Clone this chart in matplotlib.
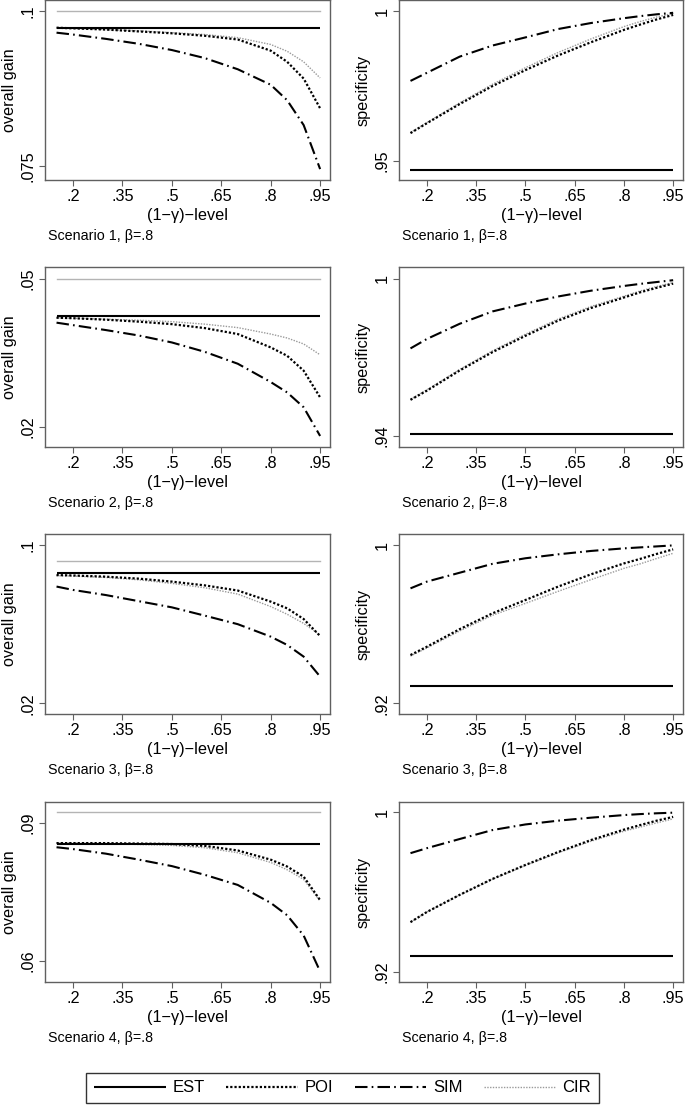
import numpy as np
import matplotlib
matplotlib.use('Agg')
import matplotlib.pyplot as plt
from matplotlib.lines import Line2D

plt.rcParams['font.family'] = ['Liberation Sans', 'DejaVu Sans']

# (1-gamma) levels
level = [0.15, 0.2, 0.3, 0.4, 0.5, 0.6, 0.7, 0.8, 0.85, 0.9, 0.95]
xticks = [0.2, 0.35, 0.5, 0.65, 0.8, 0.95]
xticklabels = ['.2', '.35', '.5', '.65', '.8', '.95']

# overall gain, scenario 1..4
gain_true = [0.1, 0.05, 0.0921, 0.09234]
gain_est = [0.09726, 0.04235, 0.0857, 0.0854]
gain_poi1 = [.0973, .0972, .0970, .0967, .0964, .0960, .0954, .0936, .0918, .0891, .0843]
gain_cir1 = [.0973, .0972, .0970, .0968, .0965, .0962, .0957, .0946, .0935, .0918, .0892]
gain_sim1 = [.0965, .0962, .0955, .0947, .0937, .0924, .0906, .0881, .0856, .0816, .0745]
gain_poi2 = [.0421, .0420, .0417, .0413, .0408, .0400, .0388, .0361, .0344, .0314, .0260]
gain_cir2 = [.0421, .0420, .0418, .0416, .0413, .0408, .0401, .0388, .0380, .0368, .0346]
gain_sim2 = [.0411, .0406, .0396, .0385, .0371, .0352, .0328, .0291, .0270, .0240, .0182]
gain_poi3 = [.0848, .0846, .0840, .0830, .0815, .0796, .0770, .0714, .0680, .0626, .0540]
gain_cir3 = [.0845, .0843, .0836, .0824, .0806, .0784, .0752, .0689, .0650, .0604, .0545]
gain_sim3 = [.0790, .0773, .0747, .0716, .0685, .0643, .0600, .0537, .0495, .0436, .0335]
gain_poi4 = [.0856, .0856, .0856, .0855, .0854, .0850, .0840, .0820, .0805, .0783, .0732]
gain_cir4 = [.0856, .0856, .0855, .0853, .0851, .0846, .0835, .0814, .0798, .0777, .0730]
gain_sim4 = [.0847, .0843, .0833, .0820, .0806, .0787, .0765, .0726, .0699, .0655, .0577]

# specificity, scenario 1..4
spec_est = [0.9471, 0.9406, 0.9289, 0.9276]
spec_sim1 = [.9767, .9794, .9848, .9885, .9912, .9940, .9960, .9976, .9983, .9989, .9994]
spec_poi1 = [.9593, .9626, .9690, .9750, .9803, .9852, .9896, .9937, .9955, .9972, .9987]
spec_cir1 = [.9595, .9628, .9694, .9756, .9811, .9862, .9907, .9948, .9965, .9980, .9992]
spec_sim2 = [.9734, .9770, .9828, .9875, .9905, .9932, .9954, .9972, .9980, .9987, .9994]
spec_poi2 = [.9538, .9573, .9650, .9720, .9782, .9840, .9888, .9928, .9948, .9965, .9981]
spec_cir2 = [.9540, .9576, .9654, .9725, .9788, .9846, .9894, .9933, .9953, .9970, .9985]
spec_sim3 = [.9781, .9815, .9860, .9905, .9933, .9953, .9970, .9983, .9988, .9993, .9998]
spec_poi3 = [.9444, .9486, .9575, .9655, .9722, .9790, .9852, .9907, .9930, .9955, .9978]
spec_cir3 = [.9439, .9480, .9566, .9645, .9705, .9766, .9825, .9882, .9905, .9932, .9958]
spec_sim4 = [.9794, .9819, .9865, .9910, .9938, .9957, .9972, .9985, .9990, .9994, .9997]
spec_poi4 = [.9448, .9499, .9585, .9665, .9735, .9800, .9860, .9912, .9935, .9957, .9976]
spec_cir4 = [.9448, .9499, .9584, .9663, .9732, .9796, .9854, .9904, .9925, .9946, .9966]

gain_poi = [gain_poi1, gain_poi2, gain_poi3, gain_poi4]
gain_cir = [gain_cir1, gain_cir2, gain_cir3, gain_cir4]
gain_sim = [gain_sim1, gain_sim2, gain_sim3, gain_sim4]
spec_poi = [spec_poi1, spec_poi2, spec_poi3, spec_poi4]
spec_cir = [spec_cir1, spec_cir2, spec_cir3, spec_cir4]
spec_sim = [spec_sim1, spec_sim2, spec_sim3, spec_sim4]

gain_yticks = [(0.075, 0.1), (0.02, 0.05), (0.02, 0.1), (0.06, 0.09)]
gain_ylabels = [('.075', '.1'), ('.02', '.05'), ('.02', '.1'), ('.06', '.09')]
gain_ylim = [(0.07274, 0.10177), (0.01597, 0.05235), (0.01461, 0.10556), (0.05539, 0.09454)]
spec_yticks = [(0.95, 1.0), (0.94, 1.0), (0.92, 1.0), (0.92, 1.0)]
spec_ylabels = [('.95', '1'), ('.94', '1'), ('.92', '1'), ('.92', '1')]
spec_ylim = [(0.94367, 1.00367), (0.93582, 1.00443), (0.91461, 1.00556), (0.91477, 1.00506)]

W, H = 685., 1107.
fig = plt.figure(figsize=(W/100, H/100), dpi=100)

row_top = [0, 267, 534, 802]
ax_h = 180
col_left = [45, 399]
col_w = [285, 284]
fs = 11.7

st_est = dict(color='black', lw=1.5, solid_capstyle='butt')
st_poi = dict(color='black', lw=1.6, dashes=(1, 0.9))
st_sim = dict(color='black', lw=1.5, dashes=(6, 2, 0.8, 2))
st_cir = dict(color='#9a9a9a', lw=1.0, dashes=(1, 1))
st_true = dict(color='#b4b4b4', lw=1.0)
spine_col = '#606060'

def style(ax, yt, yl, ylim, ylab):
    ax.set_xlim(0.115, 0.98)
    ax.set_ylim(*ylim)
    ax.set_xticks(xticks)
    ax.set_xticklabels(xticklabels)
    ax.set_yticks(yt)
    ax.set_yticklabels(yl)
    ax.tick_params(axis='both', direction='out', length=4, width=0.8,
                   color=spine_col, labelsize=fs, pad=2.5)
    ax.tick_params(axis='y', labelrotation=90, pad=3)
    for lbl in ax.get_yticklabels():
        lbl.set_va('center')
    for s in ax.spines.values():
        s.set_color(spine_col)
        s.set_linewidth(1.0)
    ax.set_xlabel('(1\u2212\u03b3)\u2212level', fontsize=fs)
    ax.xaxis.label.set_va('center')
    ax.xaxis.set_label_coords(0.5, -0.195)
    ax.set_ylabel(ylab, fontsize=fs)
    ax.yaxis.label.set_va('center')
    ax.yaxis.set_label_coords(-0.126, 0.5)

for i in range(4):
    bottom = (H - row_top[i] - ax_h) / H
    # overall gain
    ax = fig.add_axes([col_left[0]/W, bottom, col_w[0]/W, ax_h/H])
    ax.plot([level[0], level[-1]], [gain_true[i]]*2, **st_true)
    ax.plot(level, gain_cir[i], **st_cir)
    ax.plot(level, gain_poi[i], **st_poi)
    ax.plot(level, gain_sim[i], **st_sim)
    ax.plot([level[0], level[-1]], [gain_est[i]]*2, **st_est)
    style(ax, gain_yticks[i], gain_ylabels[i], gain_ylim[i], 'overall gain')
    # specificity
    ax = fig.add_axes([col_left[1]/W, bottom, col_w[1]/W, ax_h/H])
    ax.plot(level, spec_cir[i], **st_cir)
    ax.plot(level, spec_poi[i], **st_poi)
    ax.plot(level, spec_sim[i], **st_sim)
    ax.plot([level[0], level[-1]], [spec_est[i]]*2, **st_est)
    style(ax, spec_yticks[i], spec_ylabels[i], spec_ylim[i], 'specificity')

    ytxt = (H - row_top[i] - 236) / H
    for c in range(2):
        fig.text((col_left[c] + 3)/W, ytxt, 'Scenario %d, \u03b2=.8' % (i+1),
                 fontsize=10.3, va='center', ha='left')

handles = [Line2D([], [], **st_est), Line2D([], [], **st_poi),
           Line2D([], [], **st_sim), Line2D([], [], **st_cir)]
leg = fig.legend(handles, ['EST', 'POI', 'SIM', 'CIR'], loc='center', ncol=4,
                 bbox_to_anchor=(342.5/W, (H - 1088)/H), fontsize=12,
                 handlelength=4.3, columnspacing=1.3, handletextpad=0.4,
                 frameon=True, fancybox=False, borderpad=0.45)
leg.get_frame().set_edgecolor('black')
leg.get_frame().set_linewidth(1.0)

fig.savefig('out.png', dpi=100)
